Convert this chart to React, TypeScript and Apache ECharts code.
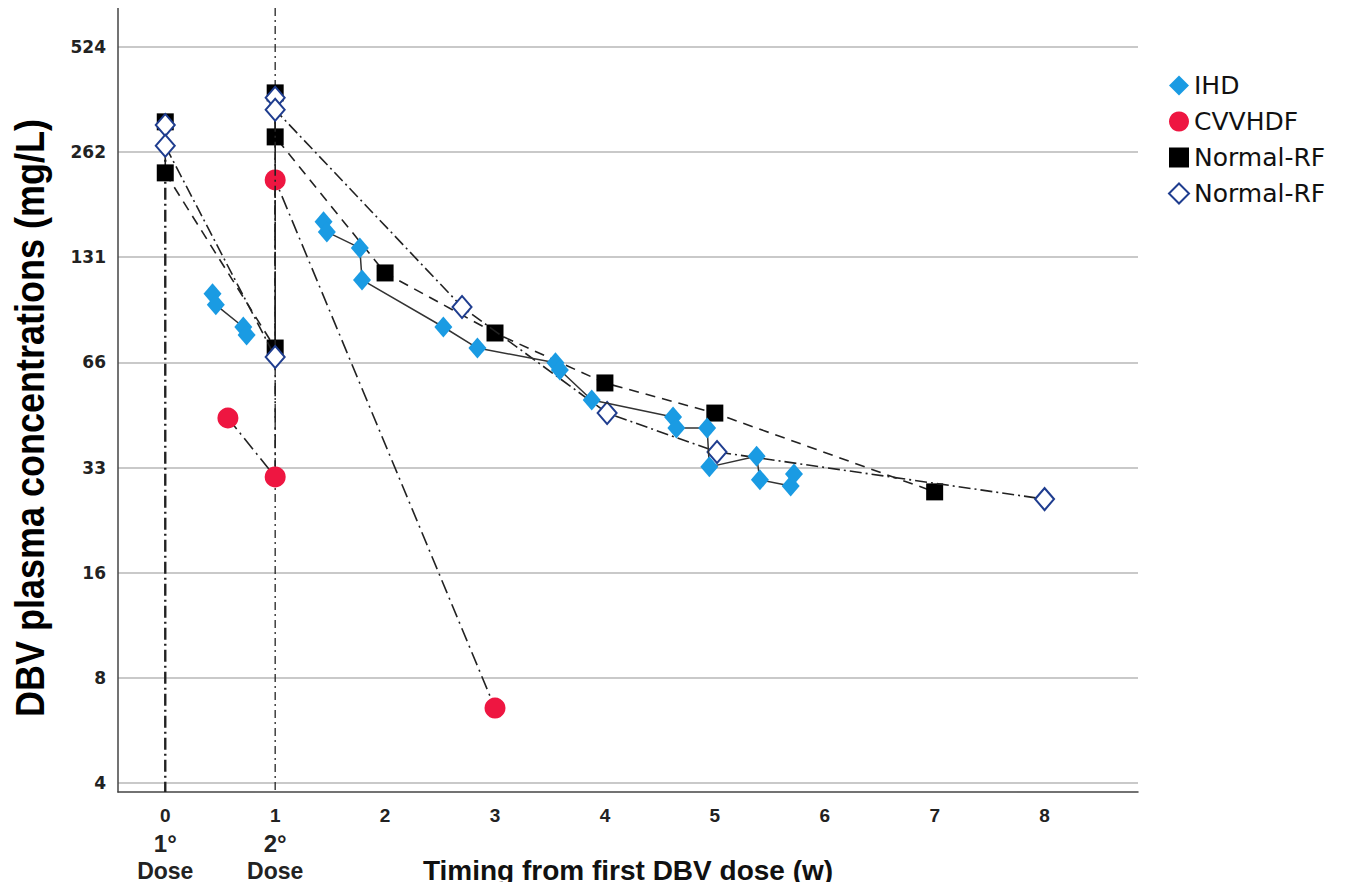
import React, { useEffect, useRef } from "react";
import * as echarts from "echarts";

// Lowest labelled tick of the log2 concentration axis (524 / 2^7)
const BASE = 524 / 128;
const Y_AXIS_MIN = 3.86; // mg/L at bottom edge
const Y_AXIS_MAX = 677; // mg/L at top edge
const X_AXIS_MIN = -0.43;
const X_AXIS_MAX = 8.85;
const yTickLabels = [4, 8, 16, 33, 66, 131, 262, 524];
const xTickLabels = ["0", "1", "2", "3", "4", "5", "6", "7", "8"];
const doseNotes = ["1°\nDose", "2°\nDose"];

// IHD (weeks, mg/L)
const ihdEarly: [number, number][] = [
  [0.43, 102.9], [0.46, 95.7], [0.71, 82.7], [0.74, 78.5],
];
const ihdLate: [number, number][] = [
  [1.44, 165.4], [1.47, 154.8], [1.77, 139.3], [1.79, 112.8],
  [2.53, 82.7], [2.84, 72.0], [3.55, 65.3], [3.59, 62.3], [3.88, 51.1],
  [4.62, 45.7], [4.65, 42.5], [4.93, 42.5], [4.95, 32.9],
  [5.38, 35.3], [5.41, 30.2], [5.69, 29.0], [5.72, 31.4],
];
// CVVHDF
const cvvhdf: [number, number][] = [
  [0.57, 45.4], [1, 30.8], [1, 218], [3, 6.71],
];
// Normal-RF (filled squares)
const normalSquare: [number, number][] = [
  [0, 319.7], [0, 228.4], [1, 72.0], [1, 386.9], [1, 289.5],
  [2, 118.1], [3, 79.5], [4, 57.2], [5, 46.9], [7, 27.9],
];
// Normal-RF (open diamonds)
const normalDiamond: [number, number][] = [
  [0, 313], [0, 273], [1, 67.9], [1, 374.6], [1, 346],
  [2.7, 94.4], [4.02, 46.9], [5.02, 36.3], [8, 26.6],
];
// Dose reference lines
const dose1: [number, number][] = [[0, 319.7], [0, Y_AXIS_MIN]];
const dose2: [number, number][] = [[1, Y_AXIS_MAX], [1, Y_AXIS_MIN]];

const toY = (v: number) => Math.log2(v / BASE);
const tr = (arr: [number, number][]) => arr.map(([x, v]) => [x, toY(v)]);

const DASH = [10, 7];
const DASHDOT = [12, 4, 2, 4];

export default function App() {
  const ref = useRef<HTMLDivElement>(null);
  useEffect(() => {
    if (!ref.current) return;
    const chart = echarts.init(ref.current, undefined, { renderer: "svg" });
    const blue = "#1A9BE3";
    const red = "#EE1641";
    const navy = "#1F3D8F";
    const lineCol = "#222";
    chart.setOption({
      animation: false,
      backgroundColor: "#fff",
      grid: { left: 118, right: 221, top: 8, bottom: 98, outerBoundsMode: "none", containLabel: false },
      legend: {
        orient: "vertical",
        left: 1163,
        top: 68,
        itemGap: 11,
        itemWidth: 20,
        itemHeight: 20,
        textStyle: { fontSize: 25, color: "#111", fontFamily: "DejaVu Sans" },
        formatter: (n: string) => n.trim(),
        data: [
          { name: "IHD", icon: "diamond" },
          { name: "CVVHDF", icon: "circle" },
          { name: "Normal-RF", icon: "rect" },
          { name: "Normal-RF ", icon: "diamond" },
        ],
      },
      xAxis: {
        type: "value",
        min: X_AXIS_MIN,
        max: X_AXIS_MAX,
        splitNumber: 9,
        axisLine: { show: true, onZero: false, lineStyle: { color: "#444", width: 1.5 } },
        axisTick: { show: false },
        splitLine: { show: false },
        axisLabel: {
          showMinLabel: false,
          showMaxLabel: false,
          margin: 11,
          formatter: (v: number) => {
            const i = Math.round(v);
            if (Math.abs(v - i) > 1e-6 || i < 0 || i >= xTickLabels.length) return "";
            const base = `{n|${xTickLabels[i]}}`;
            if (i < doseNotes.length) {
              const [a, b] = doseNotes[i].split("\n");
              return `${base}\n{d|${a}}\n{e|${b}}`;
            }
            return base;
          },
          rich: {
            n: { fontSize: 19, fontWeight: "bold", color: "#222", lineHeight: 24, fontFamily: "Liberation Sans" },
            d: { fontSize: 24, fontWeight: "bold", color: "#222", lineHeight: 32, fontFamily: "Liberation Sans" },
            e: { fontSize: 23, fontWeight: "bold", color: "#222", lineHeight: 24, fontFamily: "Liberation Sans" },
          },
        },
        name: "Timing from first DBV dose (w)",
        nameLocation: "middle",
        nameGap: 64,
        nameMoveOverlap: false,
        nameTextStyle: { fontSize: 28, fontWeight: "bold", color: "#111", fontFamily: "Liberation Sans", verticalAlign: "top" },
      },
      yAxis: {
        type: "value",
        min: toY(Y_AXIS_MIN),
        max: toY(Y_AXIS_MAX),
        splitNumber: 7,
        axisLine: { show: true, onZero: false, lineStyle: { color: "#444", width: 1.5 } },
        axisTick: { show: false },
        splitLine: { show: true, showMinLine: false, showMaxLine: false, lineStyle: { color: "#c9c9c9", width: 2 } },
        axisLabel: {
          showMinLabel: false,
          showMaxLabel: false,
          margin: 12,
          fontSize: 17,
          fontWeight: "bold",
          color: "#222",
          fontFamily: "DejaVu Sans",
          formatter: (v: number) => {
            const i = Math.round(v);
            if (Math.abs(v - i) > 1e-6 || i < 0 || i >= yTickLabels.length) return "";
            return String(yTickLabels[i]);
          },
        },
      },
      graphic: [
        {
          type: "text",
          x: 30,
          y: 418,
          rotation: Math.PI / 2,
          scaleX: 0.9,
          style: {
            text: "DBV plasma concentrations (mg/L)",
            font: "bold 40px 'Liberation Sans'",
            fill: "#000",
            textAlign: "center",
            textVerticalAlign: "middle",
          },
        },
      ],
      series: [
        {
          name: "dose1",
          type: "line",
          data: tr(dose1),
          showSymbol: false,
          z: 1,
          lineStyle: { color: lineCol, width: 2.4, type: DASHDOT },
          silent: true,
        },
        {
          name: "dose2",
          type: "line",
          data: tr(dose2),
          showSymbol: false,
          z: 1,
          lineStyle: { color: lineCol, width: 1.3, type: [8, 4, 2, 4] },
          silent: true,
        },
        {
          name: "Normal-RF",
          type: "line",
          data: tr(normalSquare),
          symbol: "rect",
          symbolSize: 17,
          itemStyle: { color: "#000" },
          lineStyle: { color: lineCol, width: 1.6, type: DASH },
          z: 3,
        },
        {
          name: "Normal-RF ",
          type: "line",
          data: tr(normalDiamond),
          symbol: "diamond",
          symbolSize: [19, 22],
          itemStyle: { color: "#fff", borderColor: navy, borderWidth: 2 },
          lineStyle: { color: lineCol, width: 1.6, type: DASHDOT },
          z: 4,
        },
        {
          name: "CVVHDF",
          type: "line",
          data: tr(cvvhdf),
          symbol: "circle",
          symbolSize: 21,
          itemStyle: { color: red },
          lineStyle: { color: lineCol, width: 1.6, type: [14, 5, 2, 5] },
          z: 3,
        },
        {
          name: "IHD",
          type: "line",
          data: tr(ihdEarly),
          symbol: "diamond",
          symbolSize: [18, 21],
          itemStyle: { color: blue },
          lineStyle: { color: "#333", width: 1.5 },
          z: 5,
        },
        {
          name: "IHD",
          type: "line",
          data: tr(ihdLate),
          symbol: "diamond",
          symbolSize: [18, 21],
          itemStyle: { color: blue },
          lineStyle: { color: "#333", width: 1.5 },
          z: 5,
        },
      ],
    });
    return () => chart.dispose();
  }, []);
  return <div ref={ref} style={{ width: 1359, height: 890, margin: -8 }} />;
}
